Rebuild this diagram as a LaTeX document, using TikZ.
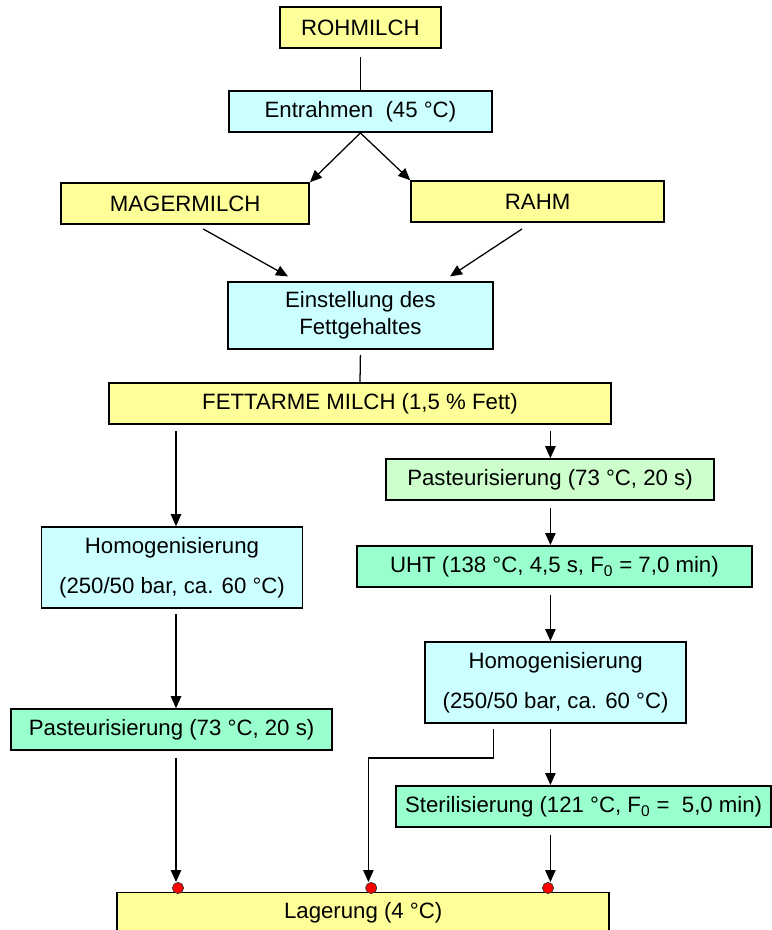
\documentclass[tikz,border=0pt]{standalone}
\usepackage{fontspec}
\setmainfont{Liberation Sans}
\usepackage{xcolor}
\usetikzlibrary{arrows.meta, positioning}

\definecolor{gelb}{HTML}{FFFF99}
\definecolor{hellblau}{HTML}{CCFFFF}
\definecolor{hellgruen}{HTML}{CCFFCC}
\definecolor{mint}{HTML}{99FFCC}

\begin{document}
\begin{tikzpicture}[>={Triangle[length=3mm,width=2.6mm]}, line width=0.9pt,
    font=\fontsize{15.8}{19.2}\selectfont,
    kasten/.style={draw, line width=1.1pt, inner sep=0pt, minimum height=1.03cm, align=center},
    gelbkasten/.style={kasten, fill=gelb},
    blaukasten/.style={kasten, fill=hellblau},
    gruenkasten/.style={kasten, fill=hellgruen},
    mintkasten/.style={kasten, fill=mint},
    punkt/.style={circle, fill=red, draw=black!80, line width=0.5pt, inner sep=0pt, minimum size=2.8mm}]
    \useasboundingbox (0,0) rectangle (19.275,-23.25);

    \node (rohmilch) at (9.01,-0.69) [gelbkasten, minimum width=4.03cm] {ROHMILCH}; %
    \node (entrahmen) at (9.01,-2.79) [blaukasten, minimum width=6.58cm] {Entrahmen\ \ (45 °C)}; %
    \node (mager) at (4.63,-5.09) [gelbkasten, minimum width=6.2cm] {MAGERMILCH}; %
    \node (rahm) at (13.44,-5.04) [gelbkasten, minimum width=6.33cm] {RAHM}; %
    \node (einstellung) at (9.01,-7.89) [blaukasten, minimum width=6.63cm, minimum height=1.68cm] {Einstellung des\\Fettgehaltes}; %
    \node (fettarm) at (9.0,-10.09) [gelbkasten, minimum width=12.55cm] {FETTARME MILCH (1,5 \% Fett)}; %
    \node (pasteurR) at (13.75,-11.99) [gruenkasten, minimum width=8.2cm] {Pasteurisierung (73 °C, 20 s)}; %
    \node (uht) at (13.86,-14.16) [mintkasten, minimum width=9.88cm] {UHT (138 °C, 4,5 s, F\textsubscript{0} = 7,0 min)}; %
    \node (homogL) at (4.3,-14.19) [blaukasten, minimum width=6.53cm, minimum height=2.03cm] {Homogenisierung\\[3.2mm](250/50 bar, ca. 60 °C)}; %
    \node (homogR) at (13.89,-17.06) [blaukasten, minimum width=6.53cm, minimum height=2.03cm] {Homogenisierung\\[3.2mm](250/50 bar, ca. 60 °C)}; %
    \node (pasteurL) at (4.29,-18.24) [mintkasten, minimum width=8.03cm] {Pasteurisierung (73 °C, 20 s)}; %
    \node (steril) at (14.59,-20.16) [mintkasten, minimum width=9.38cm] {Sterilisierung (121 °C, F\textsubscript{0} =\ \ 5,0 min)}; %
    \node (lagerung) at (9.08,-22.83) [gelbkasten, minimum width=12.3cm] {Lagerung (4 °C)}; %

    \node (d1) at (4.45,-22.2) [punkt] {}; %
    \node (d2) at (9.28,-22.2) [punkt] {}; %
    \node (d3) at (13.7,-22.2) [punkt] {}; %
    \coordinate (lc) at (4.4,0); %
    \coordinate (rc) at (13.76,0); %
    \coordinate (knick) at (12.33,-18.95); %

    %%%% pfeile
    \draw ([yshift=-2mm]rohmilch.south) -- (entrahmen.north); %
    \draw [->] (entrahmen.south) -- (mager.north east); %
    \draw [->] (entrahmen.south) -- (rahm.north west); %
    \draw [->] ([shift={(0.45,-0.1)}]mager.south) -- ([shift={(-1.81,0.12)}]einstellung.north); %
    \draw [->] ([shift={(-0.39,-0.15)}]rahm.south) -- ([shift={(2.24,0.12)}]einstellung.north); %
    \draw ([yshift=-1.2mm]einstellung.south) -- (fettarm.north); %

    \draw [->] ([yshift=-1.5mm]fettarm.south -| lc) -- (homogL.north -| lc); %
    \draw [->] ([yshift=-1.2mm]homogL.south -| lc) -- (pasteurL.north -| lc); %
    \draw [->] ([yshift=-1.7mm]pasteurL.south -| lc) -- (d1.north -| lc); %

    \draw [->] ([yshift=-1.5mm]fettarm.south -| rc) -- (pasteurR.north -| rc); %
    \draw [->] ([yshift=-1.7mm]pasteurR.south -| rc) -- (uht.north -| rc); %
    \draw [->] ([yshift=-1.7mm]uht.south -| rc) -- (homogR.north -| rc); %
    \draw [->] ([yshift=-1.3mm]homogR.south -| rc) -- (steril.north -| rc); %
    \draw [->] ([yshift=-1.7mm]steril.south -| rc) -- (d3.north -| rc); %
    \draw [->] ([yshift=-1.3mm]homogR.south -| knick) -- (knick) -| ([xshift=-0.7mm]d2.north); %
  \end{tikzpicture}
\end{document}
